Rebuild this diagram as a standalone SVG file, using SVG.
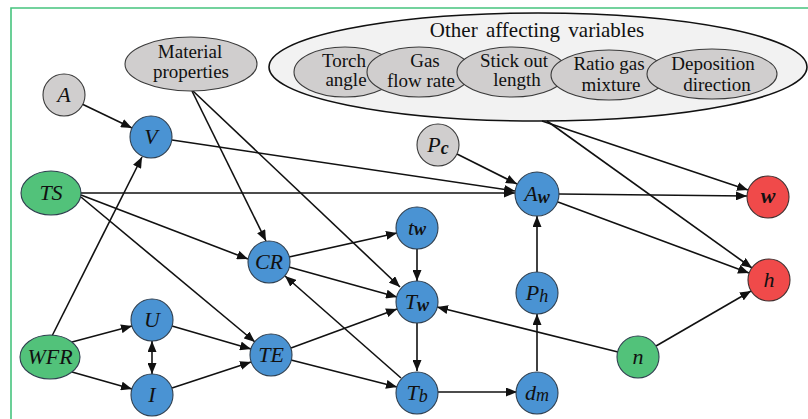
<svg xmlns="http://www.w3.org/2000/svg" width="808" height="419" viewBox="0 0 808 419">
<style>
.bg{fill:#ffffff}
.frame{fill:none;stroke:#46c47e;stroke-width:1.6}
.blue{fill:#4a93d3;stroke:#2f3f4f;stroke-width:1.1}
.green{fill:#52c27a;stroke:#2f3f4f;stroke-width:1.1}
.red{fill:#f04a4a;stroke:#3f2f2f;stroke-width:1.1}
.gray{fill:#d0cece;stroke:#3a3a3a;stroke-width:1.1}
.big{fill:#f2f2f2;stroke:#111;stroke-width:1.6}
.v{font-family:"Liberation Serif","Times New Roman",serif;font-style:italic;font-size:22px;fill:#111;text-anchor:middle}
.s{font-weight:bold;font-size:18px}
.sn{font-size:18px}
.t{font-family:"Liberation Serif","Times New Roman",serif;font-size:19px;fill:#111;text-anchor:middle}
.tt{font-family:"Liberation Serif","Times New Roman",serif;font-size:21px;fill:#111;text-anchor:middle;word-spacing:3px}
.e{fill:none;stroke:#111;stroke-width:1.6;marker-end:url(#ah)}
.d{fill:none;stroke:#111;stroke-width:1.6;marker-end:url(#ah);marker-start:url(#ah2)}
</style>
<defs>
<marker id="ah" markerUnits="userSpaceOnUse" markerWidth="12" markerHeight="9" refX="11" refY="4.5" orient="auto"><path d="M0,0 L11,4.5 L0,9 z" fill="#111"/></marker>
<marker id="ah2" markerUnits="userSpaceOnUse" markerWidth="12" markerHeight="9" refX="11" refY="4.5" orient="auto-start-reverse"><path d="M0,0 L11,4.5 L0,9 z" fill="#111"/></marker>
</defs>
<rect class="bg" x="0" y="0" width="808" height="419"/>
<path class="frame" d="M11,419 L11,8 L808,8"/>

<g id="other-variables">
<ellipse class="big" cx="538" cy="67" rx="269" ry="54"/>
<text class="tt" x="537" y="37">Other affecting variables</text>
<g id="torch-angle"><ellipse class="gray" cx="345" cy="72" rx="51" ry="25"/><text class="t" x="344" y="67">Torch</text><text class="t" x="346" y="86">angle</text></g>
<g id="gas-flow-rate"><ellipse class="gray" cx="419" cy="72" rx="52" ry="25"/><text class="t" x="425" y="67">Gas</text><text class="t" x="421" y="87">flow rate</text></g>
<g id="stick-out-length"><ellipse class="gray" cx="512" cy="72" rx="55" ry="25"/><text class="t" x="514" y="67">Stick out</text><text class="t" x="517" y="86">length</text></g>
<g id="ratio-gas-mixture"><ellipse class="gray" cx="609" cy="75" rx="58" ry="25"/><text class="t" x="609" y="70">Ratio gas</text><text class="t" x="611" y="91">mixture</text></g>
<g id="deposition-direction"><ellipse class="gray" cx="712" cy="74" rx="65" ry="25"/><text class="t" x="713" y="70">Deposition</text><text class="t" x="717" y="91">direction</text></g>
</g>

<g id="connectors">
<line class="e" x1="82" y1="104" x2="132" y2="128"/>
<line class="e" x1="52" y1="336" x2="142" y2="157"/>
<line class="e" x1="172" y1="140" x2="515" y2="191"/>
<line class="e" x1="81" y1="193" x2="515" y2="193"/>
<line class="e" x1="81" y1="195" x2="248" y2="259"/>
<line class="e" x1="81" y1="197" x2="255" y2="342"/>
<line class="e" x1="192" y1="91" x2="266" y2="241"/>
<line class="e" x1="193" y1="91" x2="400" y2="287"/>
<line class="e" x1="457" y1="154" x2="517" y2="184"/>
<line class="e" x1="542" y1="121" x2="748" y2="190"/>
<line class="e" x1="547" y1="121" x2="752" y2="268"/>
<line class="e" x1="559" y1="194" x2="747" y2="196"/>
<line class="e" x1="558" y1="202" x2="749" y2="273"/>
<line class="e" x1="289" y1="257" x2="397" y2="233"/>
<line class="e" x1="289" y1="267" x2="397" y2="297"/>
<line class="e" x1="417" y1="249" x2="417" y2="281"/>
<line class="e" x1="417" y1="323" x2="417" y2="371"/>
<line class="e" x1="438" y1="392" x2="517" y2="392"/>
<line class="e" x1="537" y1="371" x2="537" y2="314"/>
<line class="e" x1="537" y1="272" x2="537" y2="216"/>
<line class="e" x1="618" y1="352" x2="437" y2="307"/>
<line class="e" x1="656" y1="346" x2="751" y2="291"/>
<line class="e" x1="401" y1="378" x2="285" y2="276"/>
<line class="e" x1="291" y1="348" x2="397" y2="309"/>
<line class="e" x1="291" y1="360" x2="397" y2="387"/>
<line class="e" x1="172" y1="326" x2="251" y2="349"/>
<line class="e" x1="172" y1="388" x2="251" y2="362"/>
<line class="e" x1="72" y1="342" x2="132" y2="326"/>
<line class="e" x1="72" y1="372" x2="132" y2="389"/>
<line class="d" x1="152" y1="341" x2="152" y2="374"/>
</g>

<g id="material-properties"><ellipse class="gray" cx="191" cy="64" rx="66" ry="27"/><text class="t" x="190" y="58">Material</text><text class="t" x="191" y="78">properties</text></g>
<g id="node-A"><circle class="gray" cx="64" cy="95" r="21"/><text class="v" x="64" y="102">A</text></g>
<g id="node-V"><circle class="blue" cx="151" cy="137" r="21"/><text class="v" x="151" y="144">V</text></g>
<g id="node-TS"><ellipse class="green" cx="51" cy="193" rx="30" ry="22"/><text class="v" x="51" y="200">TS</text></g>
<g id="node-WFR"><ellipse class="green" cx="50" cy="357" rx="30" ry="22"/><text class="v" x="50" y="364">WFR</text></g>
<g id="node-U"><circle class="blue" cx="152" cy="320" r="21"/><text class="v" x="152" y="327">U</text></g>
<g id="node-I"><circle class="blue" cx="152" cy="395" r="21"/><text class="v" x="152" y="402">I</text></g>
<g id="node-CR"><circle class="blue" cx="269" cy="262" r="21"/><text class="v" x="269" y="269">CR</text></g>
<g id="node-TE"><circle class="blue" cx="271" cy="355" r="21"/><text class="v" x="271" y="362">TE</text></g>
<g id="node-tw"><circle class="blue" cx="417" cy="228" r="21"/><text class="v" x="417" y="235">t<tspan class="s">w</tspan></text></g>
<g id="node-Tw"><circle class="blue" cx="417" cy="302" r="21"/><text class="v" x="417" y="309">T<tspan class="s" dy="2">w</tspan></text></g>
<g id="node-Tb"><circle class="blue" cx="417" cy="393" r="21"/><text class="v" x="417" y="400">T<tspan class="sn" dy="2">b</tspan></text></g>
<g id="node-dm"><circle class="blue" cx="537" cy="393" r="21"/><text class="v" x="537" y="400">d<tspan class="sn" dy="1">m</tspan></text></g>
<g id="node-Ph"><circle class="blue" cx="537" cy="293" r="21"/><text class="v" x="537" y="300">P<tspan class="sn" dy="2">h</tspan></text></g>
<g id="node-Aw"><circle class="blue" cx="537" cy="194" r="22"/><text class="v" x="537" y="201">A<tspan class="s" dy="2">w</tspan></text></g>
<g id="node-Pc"><circle class="gray" cx="438" cy="145" r="21"/><text class="v" x="438" y="152">P<tspan class="s" dy="2">c</tspan></text></g>
<g id="node-w"><circle class="red" cx="768" cy="197" r="21"/><text class="v" x="768" y="203" font-weight="bold" font-size="18">w</text></g>
<g id="node-h"><circle class="red" cx="769" cy="280" r="21"/><text class="v" x="769" y="287">h</text></g>
<g id="node-n"><circle class="green" cx="638" cy="357" r="21"/><text class="v" x="638" y="364">n</text></g>
</svg>
